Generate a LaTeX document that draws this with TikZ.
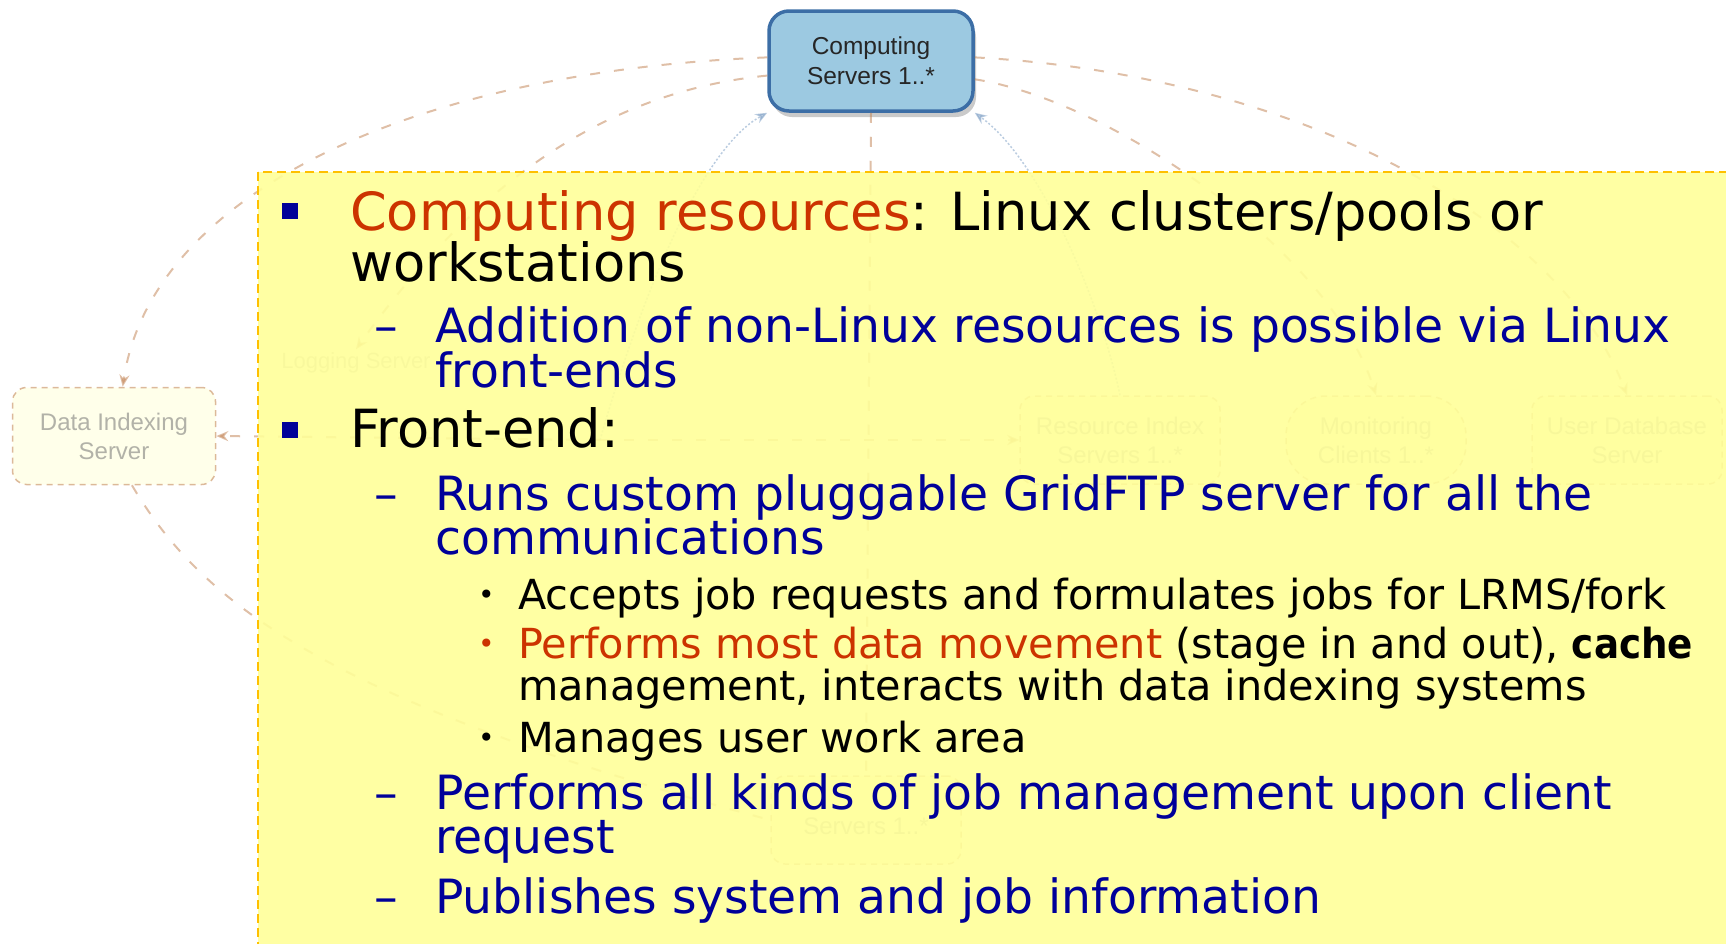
\documentclass[tikz,border=0pt]{standalone}
\usepackage{fontspec}
\setmainfont{DejaVu Sans}
\newfontfamily\boxfont{Liberation Sans}
\newfontfamily\cachefont{DejaVu Sans Condensed}
\usepackage{xcolor}
\usepackage{tikz}
\usetikzlibrary{positioning,calc,arrows.meta,shadows}
\definecolor{slideblue}{HTML}{000099}
\definecolor{slidered}{HTML}{CC3300}
\definecolor{noteyellow}{HTML}{FFFF99}
\definecolor{notegold}{HTML}{FFC000}
\definecolor{srvfill}{HTML}{9CC9E1}
\definecolor{srvline}{HTML}{3C6EA6}
\definecolor{ghostline}{HTML}{C08050}
\definecolor{ghostfill}{HTML}{FFFFD8}

\begin{document}
\begin{tikzpicture}[x=1pt,y=-1pt,
  srvBox/.style ={draw=srvline, line width=3.5pt, fill=srvfill, rounded corners=20pt,
                  minimum width=204pt, minimum height=100pt, align=center, text=black!85,
                  font=\boxfont\fontsize{24.5}{30}\selectfont,
                  drop shadow={shadow xshift=3pt, shadow yshift=-6pt, opacity=0.35, fill=black!60}},
  ghostBox/.style={draw=ghostline, dash pattern=on 6pt off 5pt, line width=1.5pt,
                  fill=ghostfill, rounded corners=14pt, align=center, text=black!55,
                  font=\boxfont\fontsize{24}{29}\selectfont, opacity=0.55},
  ghostText/.style={align=center, text=black!45, font=\boxfont\fontsize{22}{28}\selectfont, opacity=0.5},
  ghostArc/.style ={draw=ghostline, line width=2pt, dash pattern=on 10pt off 14pt, opacity=0.5},
  ghostBlue/.style={draw=srvline!70, line width=1.5pt, dash pattern=on 2pt off 2pt, opacity=0.5},
  noteBox/.style  ={fill=noteyellow, fill opacity=0.9, draw=notegold, line width=2pt, dash pattern=on 9pt off 5pt},
  lvlA/.style={anchor=base west, inner sep=0pt, font=\fontsize{52.6}{52}\selectfont},
  lvlB/.style={anchor=base west, inner sep=0pt, text=slideblue, font=\fontsize{47.2}{47}\selectfont},
  lvlC/.style={anchor=base west, inner sep=0pt, font=\fontsize{41.4}{42}\selectfont},
  dotBullet/.style={anchor=base west, inner sep=0pt, font=\fontsize{28}{28}\selectfont},
  sqBullet/.style={fill=slideblue, inner sep=0pt, minimum size=15.5pt},
  tip/.style={-{Stealth[length=12pt,width=10pt]}},
]
\useasboundingbox (0,0) rectangle (1726,943);
% faded architecture diagram behind the note
\node[srvBox] (cs) at (871,61) {Computing\\Servers 1..*};
\node[ghostBox, minimum width=203pt, minimum height=97pt] (dis) at (114,436) {Data Indexing\\Server};
\node[ghostText] (logS) at (356,363) {Logging Server};
\node[ghostBox, minimum width=200pt, minimum height=88pt] (rix) at (1120,440) {Resource Index\\Servers 1..*};
\node[ghostBox, minimum width=180pt, minimum height=88pt, rounded corners=40pt] (monC) at (1376,440) {Monitoring\\Clients 1..*};
\node[ghostBox, minimum width=190pt, minimum height=88pt] (udb) at (1627,440) {User Database\\Server};
\node[ghostBox, minimum width=190pt, minimum height=88pt] (sto) at (866,820) {\\Servers 1..*};
\coordinate (feL) at (600,440);
% connectors
\draw[ghostArc, tip] (cs.178) .. controls (400,72) and (150,200) .. (dis.80);
\draw[ghostArc, tip] (cs.188) .. controls (600,92) and (470,190) .. (logS.north);
\draw[ghostArc, tip] (cs.2) .. controls (1300,75) and (1560,220) .. (udb.north);
\draw[ghostArc, tip] (cs.350) .. controls (1110,100) and (1330,250) .. (monC.north);
\draw[ghostArc] (dis.290) .. controls (200,600) and (320,700) .. (sto.west);
\draw[ghostArc, tip] (feL) -- (dis.east);
\draw[ghostArc, tip] (feL) -- (rix.west);
\draw[ghostArc] (cs.south) -- (sto.north);
\draw[ghostBlue, tip] (feL) .. controls (640,300) and (700,150) .. (cs.south west);
\draw[ghostBlue, tip] (rix.north) .. controls (1100,300) and (1040,160) .. (cs.south east);
% note
\path[noteBox] (258,172) rectangle (1760,980);
\node[sqBullet] (b1) at (290,211) {};
\node[lvlA] (t1a) at (350,230) {{\color{slidered}Computing resources}: Linux clusters/pools or};
\node[lvlA] (t1b) at (350,281) {workstations};
\node[lvlB] (d1)  at (374,342) {–};
\node[lvlB] (t2a) at (435,342) {Addition of non-Linux resources is possible via Linux};
\node[lvlB] (t2b) at (435,387) {front-ends};
\node[sqBullet] (b2) at (290,430) {};
\node[lvlA] (t1c) at (350,447) {Front-end:};
\node[lvlB] (d2)  at (374,510) {–};
\node[lvlB] (t2c) at (435,510) {Runs custom pluggable GridFTP server for all the};
\node[lvlB] (t2d) at (435,554) {communications};
\node[dotBullet] (c1) at (478,604) {•};
\node[lvlC] (t3a) at (518,609) {Accepts job requests and formulates jobs for LRMS/fork};
\node[dotBullet, text=slidered] (c2) at (478,653) {•};
\node[lvlC] (t3b) at (518,658) {{\color{slidered}Performs most data movement} (stage in and out), {\cachefont\bfseries cache}};
\node[lvlC] (t3c) at (518,700) {management, interacts with data indexing systems};
\node[dotBullet] (c3) at (478,747) {•};
\node[lvlC] (t3d) at (518,752) {Manages user work area};
\node[lvlB] (d3)  at (374,809) {–};
\node[lvlB] (t2e) at (435,809) {Performs all kinds of job management upon client};
\node[lvlB] (t2f) at (435,853) {request};
\node[lvlB] (d4)  at (374,913) {–};
\node[lvlB] (t2g) at (435,913) {Publishes system and job information};
\end{tikzpicture}
\end{document}
